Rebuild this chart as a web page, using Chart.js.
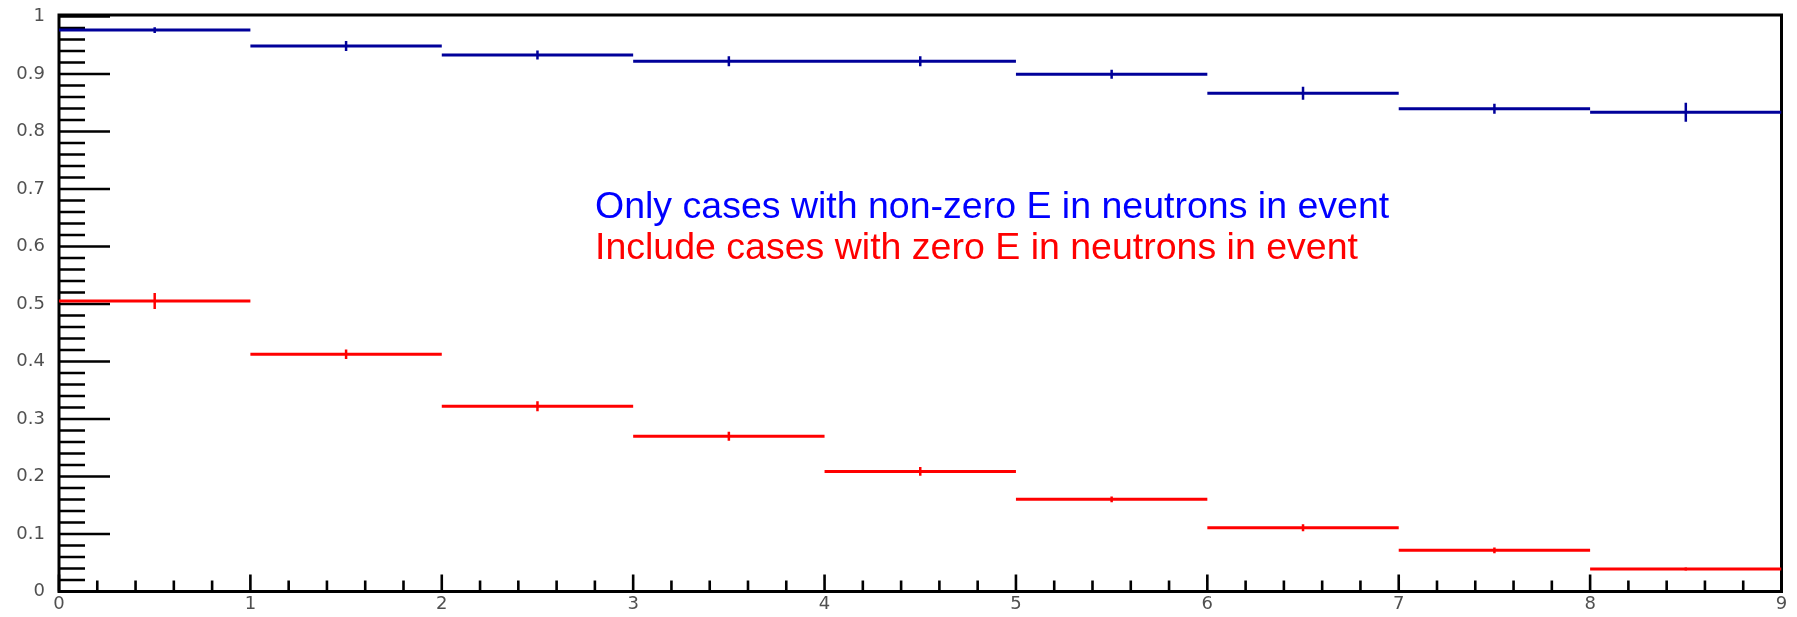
<!DOCTYPE html>
<html>
<head>
<meta charset="utf-8">
<script src="https://cdn.jsdelivr.net/npm/chart.js@4.4.0/dist/chart.umd.min.js"></script>
<style>
html, body { margin: 0; padding: 0; background: #fff; }
#wrap { width: 1797px; height: 617px; }
</style>
</head>
<body>
<div id="wrap"><canvas id="effChart" width="1797" height="617"></canvas></div>
<script>
// histogram binning: 9 bins of width 1
const binEdges = [0, 1, 2, 3, 4, 5, 6, 7, 8, 9];

// fraction per bin, events with non-zero neutron energy only
const nonZeroVals = [0.9765, 0.9487, 0.9330, 0.9221, 0.9221, 0.8995, 0.8664, 0.8397, 0.8334];
const nonZeroErrs = [0.0050, 0.0087, 0.0078, 0.0087, 0.0087, 0.0078, 0.0113, 0.0087, 0.0165];

// fraction per bin, all events
const withZeroVals = [0.5052, 0.4125, 0.3221, 0.2699, 0.2089, 0.1604, 0.1110, 0.0717, 0.0391];
const withZeroErrs = [0.0139, 0.0083, 0.0087, 0.0078, 0.0078, 0.0050, 0.0060, 0.0050, 0.0026];

const xTickLabels = ['0', '1', '2', '3', '4', '5', '6', '7', '8', '9'];
const yTickLabels = ['0', '0.1', '0.2', '0.3', '0.4', '0.5', '0.6', '0.7', '0.8', '0.9', '1'];

const noteLines = [
    'Only cases with non-zero E in neutrons in event',
    'Include cases with zero E in neutrons in event'
];

const BLUE = '#00009a';
const RED = '#ff0000';

// one flat segment per bin, broken by a null point
function binSegments(vals) {
    const pts = [];
    vals.forEach((v, i) => {
        pts.push({x: binEdges[i], y: v}, {x: binEdges[i + 1], y: v}, {x: binEdges[i + 1], y: null});
    });
    return pts;
}

// vertical error bar at each bin centre
function errorBars(vals, errs) {
    const pts = [];
    vals.forEach((v, i) => {
        const c = (binEdges[i] + binEdges[i + 1]) / 2;
        pts.push({x: c, y: v - errs[i]}, {x: c, y: v + errs[i]}, {x: c, y: null});
    });
    return pts;
}

function binCentres(vals) {
    return vals.map((v, i) => ({x: (binEdges[i] + binEdges[i + 1]) / 2, y: v}));
}

function lineSet(data, color, width) {
    return {
        data: data,
        borderColor: color,
        borderWidth: width,
        pointRadius: 0,
        spanGaps: false,
        tension: 0,
        borderCapStyle: 'butt'
    };
}

function markerSet(data) {
    return {
        data: data,
        showLine: false,
        pointStyle: 'rect',
        pointRadius: 1.4,
        pointBorderWidth: 0,
        pointBackgroundColor: '#000'
    };
}

const isMajor = (v, per) => Math.abs(v * per - Math.round(v * per)) < 1e-6;

// ROOT-style frame with inward ticks, and the two text lines
const rootFrame = {
    id: 'rootFrame',
    beforeDatasetsDraw(chart) {
        const {ctx, chartArea: a, scales: {x, y}} = chart;
        ctx.save();
        ctx.strokeStyle = '#000';
        ctx.lineWidth = 3;
        ctx.strokeRect(a.left, a.top - 1.5, a.right - a.left, a.bottom - a.top + 1.5);

        ctx.lineWidth = 2.6;
        ctx.beginPath();
        y.ticks.forEach(t => {
            const py = y.getPixelForValue(t.value);
            const len = isMajor(t.value, 10) ? 51 : 26;
            ctx.moveTo(a.left, py);
            ctx.lineTo(a.left + len, py);
        });
        x.ticks.forEach(t => {
            const px = x.getPixelForValue(t.value);
            const len = isMajor(t.value, 1) ? 17 : 11;
            ctx.moveTo(px, a.bottom);
            ctx.lineTo(px, a.bottom - len);
        });
        ctx.stroke();
        ctx.restore();
    },
    afterDraw(chart) {
        const ctx = chart.ctx;
        ctx.save();
        ctx.font = '37.5px "Liberation Sans", Arial, sans-serif';
        ctx.textAlign = 'left';
        ctx.textBaseline = 'alphabetic';
        ctx.fillStyle = '#0000ff';
        ctx.fillText(noteLines[0], 595, 218);
        ctx.fillStyle = RED;
        ctx.fillText(noteLines[1], 595, 259);
        ctx.restore();
    }
};

const tickFont = {family: '"DejaVu Sans", sans-serif', size: 18};

new Chart(document.getElementById('effChart').getContext('2d'), {
    type: 'line',
    data: {
        datasets: [
            lineSet(binSegments(nonZeroVals), BLUE, 3),
            lineSet(errorBars(nonZeroVals, nonZeroErrs), BLUE, 2.5),
            markerSet(binCentres(nonZeroVals)),
            lineSet(binSegments(withZeroVals), RED, 3),
            lineSet(errorBars(withZeroVals, withZeroErrs), RED, 2.5),
            markerSet(binCentres(withZeroVals))
        ]
    },
    options: {
        responsive: false,
        animation: false,
        layout: {padding: {top: 16.5, right: 15.5, left: 0, bottom: 0}},
        plugins: {legend: {display: false}, tooltip: {enabled: false}},
        scales: {
            x: {
                type: 'linear',
                min: 0,
                max: 9,
                grid: {display: false, drawTicks: false},
                border: {display: false},
                ticks: {
                    stepSize: 0.2,
                    maxTicksLimit: 1000,
                    autoSkip: false,
                    maxRotation: 0,
                    padding: 2,
                    color: '#505050',
                    font: tickFont,
                    callback: v => isMajor(v, 1) ? xTickLabels[Math.round(v)] : ''
                },
                afterFit(s) {
                    s.height = 25.5;
                    s.paddingLeft = 0;
                    s.paddingRight = 0;
                }
            },
            y: {
                type: 'linear',
                min: 0,
                max: 1,
                grid: {display: false, drawTicks: false},
                border: {display: false},
                ticks: {
                    stepSize: 0.02,
                    maxTicksLimit: 1000,
                    autoSkip: false,
                    padding: 14,
                    color: '#505050',
                    font: tickFont,
                    callback: v => isMajor(v, 10) ? yTickLabels[Math.round(v * 10)] : ''
                },
                afterFit(s) {
                    s.width = 59;
                    s.paddingTop = 0;
                    s.paddingBottom = 0;
                }
            }
        }
    },
    plugins: [rootFrame]
});
</script>
</body>
</html>
